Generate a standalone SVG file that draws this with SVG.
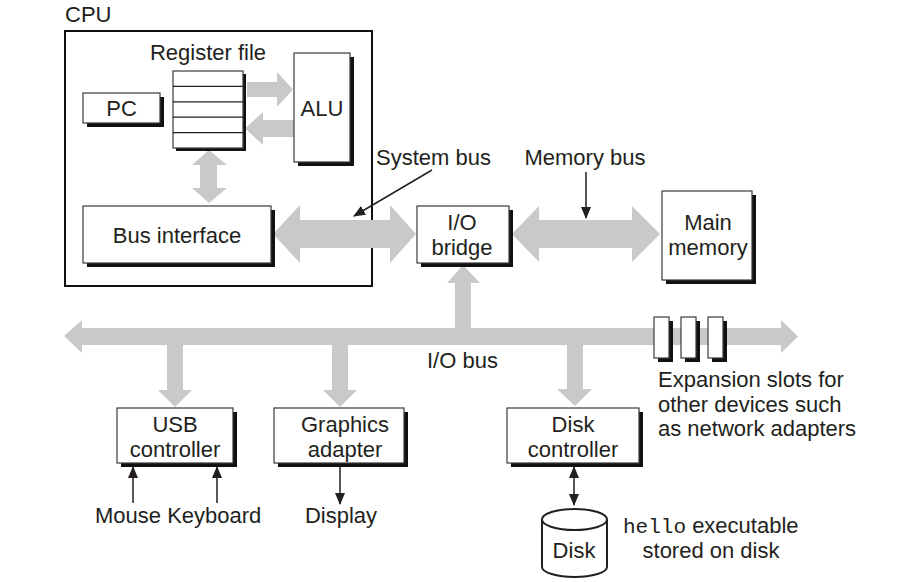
<svg xmlns="http://www.w3.org/2000/svg" width="907" height="582" viewBox="0 0 907 582">
<style>
text{font-family:"Liberation Sans",Arial,sans-serif;font-size:22px;fill:#231f20}
.c{text-anchor:middle}
.mono{font-family:"Liberation Mono","Courier New",monospace;font-size:21px}
.box{fill:#fff;stroke:#3a3a3a;stroke-width:1.2}
.sh{fill:#111}
.bus{fill:#c8c9cb}
.ln{stroke:#231f20;stroke-width:1.5;fill:none}
.rl{stroke:#231f20;stroke-width:1.2}
</style>
<defs>
<marker id="ah" viewBox="0 0 10 10" refX="9" refY="5" markerWidth="5" markerHeight="5" orient="auto-start-reverse" markerUnits="userSpaceOnUse">
<path d="M0,0 L10,5 L0,10 z" fill="#231f20" transform="scale(1)"/>
</marker>
<marker id="ah2" viewBox="0 0 12 12" refX="11" refY="6" markerWidth="12" markerHeight="12" orient="auto-start-reverse" markerUnits="userSpaceOnUse">
<path d="M0,1 L12,6 L0,11 z" fill="#231f20"/>
</marker>
</defs>

<g id="cpu">
<rect x="65" y="31" width="307" height="255" fill="none" stroke="#111" stroke-width="2"/>
<text x="65" y="22">CPU</text>
</g>

<g id="connectors">
<!-- register file to ALU -->
<polygon class="bus" points="247,82 277,82 277,72 293,89.5 277,107 277,97 247,97"/>
<!-- ALU to register file -->
<polygon class="bus" points="294,120 263,120 263,112 245,128.5 263,145 263,137 294,137"/>
<!-- register file <-> bus interface -->
<polygon class="bus" points="209,150 227,165 217,165 217,188 227,188 209,203 192,188 200,188 200,165 192,165"/>
<!-- system bus -->
<polygon class="bus" points="273,234 300,205 300,220 390,220 390,205 416,234 390,263 390,248 300,248 300,263"/>
<!-- memory bus -->
<polygon class="bus" points="512,234 539,206 539,220 632,220 632,206 660,234 632,262 632,248 539,248 539,262"/>
<!-- I/O bus -->
<polygon class="bus" points="64,336 82,320 82,328 781,328 781,320 798,336.5 781,353 781,345 82,345 82,353"/>
<!-- up to bridge -->
<polygon class="bus" points="455,329 455,283 447,283 463,265 480,283 471,283 471,329"/>
<!-- drops -->
<polygon class="bus" points="167,344 167,390 158,390 175,407 192,390 183,390 183,344"/>
<polygon class="bus" points="332,344 332,390 323,390 340,407 357,390 348,390 348,344"/>
<polygon class="bus" points="567,344 567,389 557,389 575,406 592,389 583,389 583,344"/>
<!-- system bus label pointer -->
<line class="ln" x1="432" y1="170" x2="354" y2="216" marker-end="url(#ah2)"/>
<!-- memory bus pointer -->
<line class="ln" x1="586" y1="172" x2="586" y2="218" marker-end="url(#ah2)"/>
<!-- mouse / keyboard -->
<line class="ln" x1="133" y1="503" x2="133" y2="467" marker-end="url(#ah2)"/>
<line class="ln" x1="217" y1="503" x2="217" y2="467" marker-end="url(#ah2)"/>
<!-- display -->
<line class="ln" x1="340" y1="467" x2="340" y2="504" marker-end="url(#ah2)"/>
<!-- disk controller <-> disk -->
<line class="ln" x1="574" y1="467" x2="574" y2="505" marker-start="url(#ah2)" marker-end="url(#ah2)"/>
</g>

<g id="register-file">
<text class="c" x="208" y="60">Register file</text>
<rect class="sh" x="176" y="74" width="70" height="77"/>
<rect class="box" x="173" y="71" width="70" height="77"/>
<line class="rl" x1="173" y1="86.4" x2="243" y2="86.4"/>
<line class="rl" x1="173" y1="101.8" x2="243" y2="101.8"/>
<line class="rl" x1="173" y1="117.2" x2="243" y2="117.2"/>
<line class="rl" x1="173" y1="132.6" x2="243" y2="132.6"/>
</g>

<g id="pc">
<rect class="sh" x="87" y="97" width="77" height="30"/>
<rect class="box" x="83" y="93" width="77" height="30"/>
<text class="c" x="121.5" y="116">PC</text>
</g>

<g id="alu">
<rect class="sh" x="298" y="57" width="56" height="109"/>
<rect class="box" x="294" y="53" width="56" height="109"/>
<text class="c" x="322" y="116">ALU</text>
</g>

<g id="bus-interface">
<rect class="sh" x="87" y="210" width="188" height="57"/>
<rect class="box" x="83" y="206" width="188" height="57"/>
<text class="c" x="177" y="243">Bus interface</text>
</g>

<g id="io-bridge">
<rect class="sh" x="421" y="210" width="92" height="57"/>
<rect class="box" x="417" y="206" width="92" height="57"/>
<text class="c" x="462" y="230">I/O</text>
<text class="c" x="462" y="255">bridge</text>
</g>

<g id="main-memory">
<rect class="sh" x="666" y="195" width="90" height="89"/>
<rect class="box" x="662" y="191" width="90" height="89"/>
<text class="c" x="708" y="230">Main</text>
<text class="c" x="708" y="255">memory</text>
</g>

<g id="labels">
<text x="376" y="165">System bus</text>
<text class="c" x="585" y="165">Memory bus</text>
<text x="427" y="368">I/O bus</text>
</g>

<g id="expansion-slots">
<rect class="sh" x="658" y="321" width="15" height="41"/>
<rect class="box" x="654" y="317" width="15" height="41"/>
<rect class="sh" x="685" y="321" width="15" height="41"/>
<rect class="box" x="681" y="317" width="15" height="41"/>
<rect class="sh" x="712" y="321" width="15" height="41"/>
<rect class="box" x="708" y="317" width="15" height="41"/>
<text x="658" y="387">Expansion slots for</text>
<text x="658" y="412">other devices such</text>
<text x="658" y="436">as network adapters</text>
</g>

<g id="usb-controller">
<rect class="sh" x="121" y="412" width="116" height="55"/>
<rect class="box" x="117" y="408" width="116" height="55"/>
<text class="c" x="175" y="432">USB</text>
<text class="c" x="175" y="457">controller</text>
<text x="95" y="523">Mouse Keyboard</text>
</g>

<g id="graphics-adapter">
<rect class="sh" x="278" y="412" width="130" height="55"/>
<rect class="box" x="274" y="408" width="130" height="55"/>
<text class="c" x="345" y="432">Graphics</text>
<text class="c" x="345" y="457">adapter</text>
<text class="c" x="341" y="523">Display</text>
</g>

<g id="disk-controller">
<rect class="sh" x="511" y="412" width="132" height="55"/>
<rect class="box" x="507" y="408" width="132" height="55"/>
<text class="c" x="573" y="432">Disk</text>
<text class="c" x="573" y="457">controller</text>
</g>

<g id="disk">
<path d="M542,519.5 L542,567 A32.5,10 0 0 0 607,567 L607,519.5" fill="#fff" stroke="#231f20" stroke-width="2"/>
<ellipse cx="574.5" cy="519.5" rx="32.5" ry="10.5" fill="#fff" stroke="#231f20" stroke-width="2"/>
<text class="c" x="574" y="558">Disk</text>
<text x="623" y="533"><tspan class="mono">hello</tspan> executable</text>
<text class="c" x="711" y="558">stored on disk</text>
</g>
</svg>
